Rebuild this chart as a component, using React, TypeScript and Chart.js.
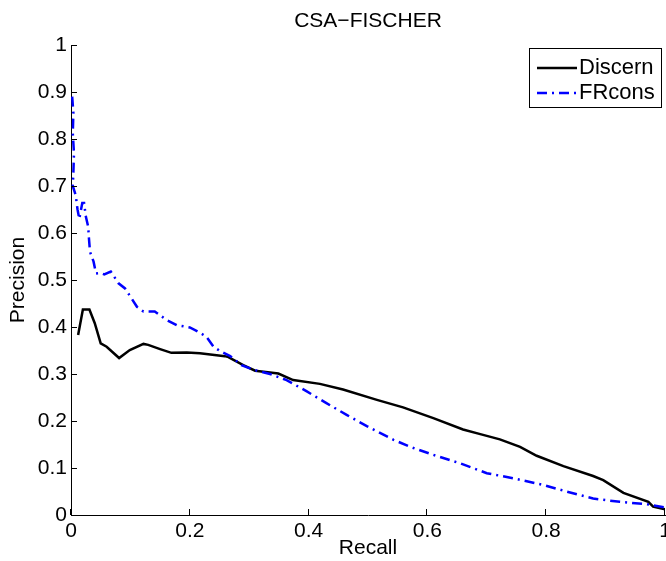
import React, { useEffect, useRef } from 'react';
import { Chart, registerables } from 'chart.js';

Chart.register(...registerables);

const TITLE = 'CSA−FISCHER';
const X_LABEL = 'Recall';
const Y_LABEL = 'Precision';
const SERIES_NAMES = ['Discern', 'FRcons'];

const X_TICKS = [0, 0.2, 0.4, 0.6, 0.8, 1];
const X_TICK_LABELS = ['0', '0.2', '0.4', '0.6', '0.8', '1'];
const Y_TICKS = [0, 0.1, 0.2, 0.3, 0.4, 0.5, 0.6, 0.7, 0.8, 0.9, 1];
const Y_TICK_LABELS = ['0', '0.1', '0.2', '0.3', '0.4', '0.5', '0.6', '0.7', '0.8', '0.9', '1'];

const DISCERN_RECALL = [0.012, 0.020, 0.031, 0.040, 0.050, 0.060, 0.081, 0.099, 0.122, 0.130, 0.150, 0.169, 0.195, 0.217, 0.259, 0.265, 0.290, 0.310, 0.349, 0.374, 0.419, 0.458, 0.515, 0.559, 0.610, 0.660, 0.689, 0.722, 0.756, 0.784, 0.829, 0.879, 0.896, 0.930, 0.972, 0.980, 1.0];
const DISCERN_PRECISION = [0.383, 0.437, 0.437, 0.408, 0.365, 0.358, 0.334, 0.351, 0.364, 0.362, 0.353, 0.345, 0.346, 0.344, 0.338, 0.336, 0.319, 0.307, 0.301, 0.287, 0.279, 0.267, 0.245, 0.229, 0.206, 0.182, 0.172, 0.161, 0.145, 0.126, 0.104, 0.083, 0.074, 0.047, 0.028, 0.018, 0.012];

const FRCONS_RECALL = [0.002, 0.004, 0.003, 0.005, 0.004, 0.003, 0.008, 0.011, 0.014, 0.019, 0.022, 0.025, 0.029, 0.030, 0.032, 0.038, 0.042, 0.049, 0.056, 0.067, 0.080, 0.091, 0.111, 0.122, 0.141, 0.161, 0.178, 0.200, 0.217, 0.228, 0.240, 0.251, 0.268, 0.287, 0.307, 0.335, 0.363, 0.397, 0.430, 0.464, 0.498, 0.543, 0.571, 0.610, 0.655, 0.700, 0.745, 0.795, 0.834, 0.879, 0.924, 0.969, 1.0];
const FRCONS_PRECISION = [0.890, 0.855, 0.812, 0.770, 0.728, 0.700, 0.680, 0.650, 0.630, 0.664, 0.664, 0.635, 0.613, 0.592, 0.560, 0.539, 0.514, 0.515, 0.512, 0.518, 0.493, 0.482, 0.443, 0.433, 0.433, 0.415, 0.404, 0.399, 0.388, 0.379, 0.358, 0.349, 0.338, 0.319, 0.309, 0.300, 0.287, 0.263, 0.238, 0.213, 0.189, 0.160, 0.145, 0.128, 0.110, 0.089, 0.078, 0.064, 0.050, 0.035, 0.028, 0.023, 0.016];

const FONT = "'Liberation Sans', Arial, Helvetica, sans-serif";

const toPoints = (xs: number[], ys: number[]) => xs.map((x, i) => ({ x, y: ys[i] }));

const inwardTicks = {
  id: 'inwardTicks',
  afterDraw(chart: any) {
    const { ctx, chartArea, scales } = chart;
    const len = 6;
    ctx.save();
    ctx.strokeStyle = '#000';
    ctx.lineWidth = 1;
    ctx.beginPath();
    X_TICKS.forEach((v) => {
      const px = Math.round(scales.x.getPixelForValue(v)) - 0.5;
      ctx.moveTo(px, chartArea.bottom);
      ctx.lineTo(px, chartArea.bottom - len);
    });
    Y_TICKS.forEach((v) => {
      const py = Math.round(scales.y.getPixelForValue(v)) + 0.5;
      ctx.moveTo(chartArea.left, py);
      ctx.lineTo(chartArea.left + len, py);
    });
    ctx.stroke();
    ctx.restore();
  },
};

const boxLegend = {
  id: 'boxLegend',
  afterDraw(chart: any) {
    const { ctx, chartArea } = chart;
    const w = 132;
    const h = 59;
    const right = chartArea.right - 4;
    const left = right - w;
    const top = chartArea.top + 3;
    ctx.save();
    ctx.fillStyle = '#fff';
    ctx.fillRect(left + 0.5, top + 0.5, w, h);
    ctx.strokeStyle = '#000';
    ctx.lineWidth = 1;
    ctx.strokeRect(left + 0.5, top + 0.5, w, h);
    ctx.font = `22px ${FONT}`;
    ctx.textBaseline = 'middle';
    ctx.textAlign = 'left';
    chart.data.datasets.forEach((ds: any, i: number) => {
      const cy = top + 20 + i * 25;
      ctx.save();
      ctx.strokeStyle = ds.borderColor;
      ctx.lineWidth = ds.borderWidth;
      ctx.setLineDash(ds.borderDash || []);
      ctx.beginPath();
      ctx.moveTo(left + 8, cy);
      ctx.lineTo(left + 48, cy);
      ctx.stroke();
      ctx.restore();
      ctx.fillStyle = '#000';
      ctx.fillText(ds.label, left + 50, cy);
    });
    ctx.restore();
  },
};

export default function App() {
  const ref = useRef<HTMLCanvasElement>(null);
  useEffect(() => {
    const prevMargin = document.body.style.margin;
    document.body.style.margin = '0';
    const chart = new Chart(ref.current as HTMLCanvasElement, {
      type: 'line',
      data: {
        datasets: [
          {
            label: SERIES_NAMES[0],
            data: toPoints(DISCERN_RECALL, DISCERN_PRECISION),
            borderColor: '#000000',
            borderWidth: 2.5,
            pointRadius: 0,
            tension: 0,
            fill: false,
            order: 1,
          },
          {
            label: SERIES_NAMES[1],
            data: toPoints(FRCONS_RECALL, FRCONS_PRECISION),
            borderColor: '#0000ff',
            borderWidth: 2.5,
            borderDash: [10, 5, 2, 5],
            pointRadius: 0,
            tension: 0,
            fill: false,
            order: 0,
          },
        ],
      },
      options: {
        animation: false,
        responsive: false,
        devicePixelRatio: 1,
        events: [],
        layout: { padding: { top: 0, left: 0, right: 1, bottom: 0 } },
        plugins: {
          legend: { display: false },
          tooltip: { enabled: false },
          title: {
            display: true,
            fullSize: false,
            text: TITLE,
            color: '#000',
            font: { family: FONT, size: 21, weight: 'normal' },
            padding: { top: 9, bottom: 10.8 },
          },
        },
        scales: {
          x: {
            type: 'linear',
            min: 0,
            max: 1,
            afterBuildTicks: (scale: any) => {
              scale.ticks = X_TICKS.map((v) => ({ value: v }));
            },
            afterFit: (scale: any) => {
              scale.height = 46;
              scale.paddingLeft = 0;
              scale.paddingRight = 0;
            },
            ticks: {
              autoSkip: false,
              maxRotation: 0,
              padding: 4,
              color: '#000',
              font: { family: FONT, size: 21 },
              callback: (value: any) => X_TICK_LABELS[X_TICKS.indexOf(Number(value))] ?? '',
            },
            grid: { display: true, drawOnChartArea: false, drawTicks: false },
            border: { display: true, color: '#000', width: 1 },
            title: {
              display: true,
              text: X_LABEL,
              color: '#000',
              font: { family: FONT, size: 21 },
              padding: { top: 0, bottom: 0 },
            },
          },
          y: {
            type: 'linear',
            min: 0,
            max: 1,
            afterBuildTicks: (scale: any) => {
              scale.ticks = Y_TICKS.map((v) => ({ value: v }));
            },
            afterFit: (scale: any) => {
              scale.width = 71;
              scale.paddingTop = 0;
              scale.paddingBottom = 0;
            },
            ticks: {
              autoSkip: false,
              padding: 4,
              color: '#000',
              font: { family: FONT, size: 21 },
              callback: (value: any) => Y_TICK_LABELS[Y_TICKS.indexOf(Number(value))] ?? '',
            },
            grid: { display: true, drawOnChartArea: false, drawTicks: false },
            border: { display: true, color: '#000', width: 1 },
            title: {
              display: true,
              text: Y_LABEL,
              color: '#000',
              font: { family: FONT, size: 21 },
              padding: { top: 6, bottom: 0 },
            },
          },
        },
      } as any,
      plugins: [inwardTicks, boxLegend],
    });
    return () => {
      chart.destroy();
      document.body.style.margin = prevMargin;
    };
  }, []);
  return (
    <div style={{ width: 666, height: 561, position: 'relative' }}>
      <canvas ref={ref} width={666} height={561} style={{ display: 'block', width: 666, height: 561 }} />
    </div>
  );
}
